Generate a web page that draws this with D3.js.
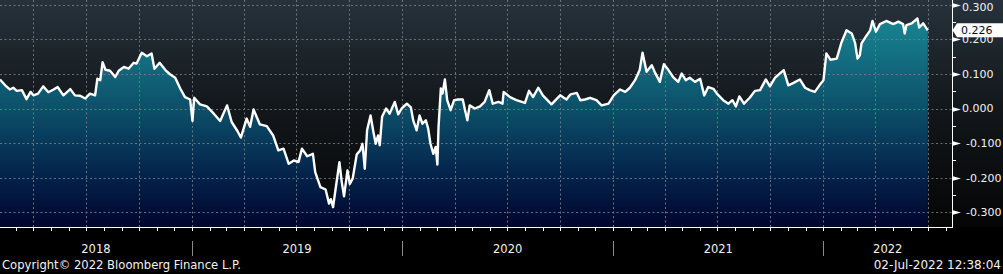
<!DOCTYPE html>
<html lang="en">
<head>
<meta charset="UTF-8">
<title>Bloomberg spread chart</title>
<script src="https://d3js.org/d3.v7.min.js"></script>
<style>
  body { margin: 0; background: #000; overflow: hidden; }
  text { font-family: "DejaVu Sans", sans-serif; font-size: 11px; fill: #f2f2f2; }
</style>
</head>
<body>
<svg id="chart"></svg>
<script>
// series: [date, value]
var series = [
  ["2018-02-02", 0.084], ["2018-02-11", 0.067], ["2018-02-19", 0.055], ["2018-02-25", 0.060],
  ["2018-03-03", 0.051], ["2018-03-12", 0.053], ["2018-03-20", 0.027], ["2018-03-27", 0.048],
  ["2018-04-01", 0.038], ["2018-04-09", 0.043], ["2018-04-18", 0.064], ["2018-04-27", 0.047],
  ["2018-05-06", 0.055], ["2018-05-13", 0.062], ["2018-05-23", 0.038], ["2018-06-04", 0.056],
  ["2018-06-12", 0.038], ["2018-06-21", 0.037], ["2018-06-30", 0.029], ["2018-07-08", 0.043],
  ["2018-07-17", 0.038], ["2018-07-21", 0.086], ["2018-07-26", 0.082], ["2018-07-30", 0.134],
  ["2018-08-04", 0.112], ["2018-08-12", 0.109], ["2018-08-21", 0.091], ["2018-08-27", 0.109],
  ["2018-09-05", 0.120], ["2018-09-13", 0.115], ["2018-09-22", 0.132], ["2018-09-27", 0.130],
  ["2018-10-06", 0.161], ["2018-10-15", 0.151], ["2018-10-23", 0.159], ["2018-10-28", 0.115],
  ["2018-11-06", 0.132], ["2018-11-16", 0.111], ["2018-11-24", 0.099], ["2018-12-03", 0.089],
  ["2018-12-12", 0.057], ["2018-12-20", 0.033], ["2018-12-29", 0.026],
  ["2019-01-02", -0.036], ["2019-01-05", 0.031], ["2019-01-15", 0.012], ["2019-01-27", 0.006],
  ["2019-02-08", -0.015], ["2019-02-19", -0.036], ["2019-03-03", 0.009], ["2019-03-11", -0.039],
  ["2019-03-21", -0.065], ["2019-03-27", -0.084], ["2019-04-06", -0.029], ["2019-04-12", -0.053],
  ["2019-04-18", -0.003], ["2019-04-29", -0.046], ["2019-05-11", -0.051], ["2019-05-22", -0.078],
  ["2019-05-31", -0.121], ["2019-06-09", -0.116], ["2019-06-18", -0.160], ["2019-06-27", -0.150],
  ["2019-07-05", -0.155], ["2019-07-11", -0.116], ["2019-07-20", -0.138], ["2019-07-30", -0.131],
  ["2019-08-03", -0.184], ["2019-08-12", -0.227], ["2019-08-21", -0.234], ["2019-08-27", -0.275],
  ["2019-08-30", -0.262], ["2019-09-03", -0.285], ["2019-09-07", -0.237], ["2019-09-14", -0.155],
  ["2019-09-18", -0.212], ["2019-09-22", -0.254], ["2019-09-28", -0.179], ["2019-10-02", -0.218],
  ["2019-10-07", -0.203], ["2019-10-14", -0.133], ["2019-10-20", -0.121], ["2019-10-24", -0.102],
  ["2019-10-28", -0.174], ["2019-11-01", -0.063], ["2019-11-07", -0.020], ["2019-11-12", -0.068],
  ["2019-11-16", -0.102], ["2019-11-20", -0.078], ["2019-11-23", -0.106], ["2019-11-27", -0.024],
  ["2019-12-04", 0.000], ["2019-12-10", -0.015], ["2019-12-19", 0.019], ["2019-12-25", -0.017],
  ["2019-12-31", 0.000],
  ["2020-01-09", 0.014], ["2020-01-16", 0.003], ["2020-01-20", -0.034], ["2020-01-26", -0.063],
  ["2020-01-31", -0.020], ["2020-02-05", -0.044], ["2020-02-11", -0.034], ["2020-02-15", -0.058],
  ["2020-02-19", -0.102], ["2020-02-24", -0.131], ["2020-02-28", -0.111], ["2020-03-02", -0.162],
  ["2020-03-04", -0.053], ["2020-03-08", 0.058], ["2020-03-11", 0.043], ["2020-03-15", 0.084],
  ["2020-03-19", 0.024], ["2020-03-25", -0.005], ["2020-03-31", 0.024], ["2020-04-07", 0.026],
  ["2020-04-15", 0.026], ["2020-04-19", -0.005], ["2020-04-23", -0.034], ["2020-04-27", 0.009],
  ["2020-05-06", 0.000], ["2020-05-15", 0.006], ["2020-05-23", 0.019], ["2020-05-31", 0.053],
  ["2020-06-06", 0.014], ["2020-06-16", 0.019], ["2020-06-23", 0.014], ["2020-06-25", 0.048],
  ["2020-07-06", 0.033], ["2020-07-17", 0.024], ["2020-08-01", 0.016], ["2020-08-08", 0.051],
  ["2020-08-15", 0.033], ["2020-08-24", 0.060], ["2020-09-01", 0.038], ["2020-09-16", 0.012],
  ["2020-10-01", 0.038], ["2020-10-12", 0.026], ["2020-10-19", 0.041], ["2020-10-30", 0.045],
  ["2020-11-05", 0.024], ["2020-11-13", 0.026], ["2020-11-22", 0.031], ["2020-12-03", 0.024],
  ["2020-12-12", 0.009], ["2020-12-24", 0.014],
  ["2021-01-02", 0.038], ["2021-01-13", 0.055], ["2021-01-22", 0.048], ["2021-01-30", 0.060],
  ["2021-02-08", 0.082], ["2021-02-16", 0.111], ["2021-02-21", 0.161], ["2021-02-28", 0.106],
  ["2021-03-09", 0.125], ["2021-03-14", 0.106], ["2021-03-23", 0.077], ["2021-03-30", 0.128],
  ["2021-04-07", 0.111], ["2021-04-15", 0.091], ["2021-04-24", 0.077], ["2021-04-30", 0.101],
  ["2021-05-07", 0.082], ["2021-05-14", 0.089], ["2021-05-23", 0.077], ["2021-06-01", 0.086],
  ["2021-06-08", 0.038], ["2021-06-15", 0.062], ["2021-06-24", 0.057], ["2021-06-30", 0.043],
  ["2021-07-11", 0.024], ["2021-07-20", 0.014], ["2021-07-27", 0.024], ["2021-08-02", 0.006],
  ["2021-08-08", 0.035], ["2021-08-16", 0.014], ["2021-08-26", 0.031], ["2021-09-04", 0.051],
  ["2021-09-13", 0.053], ["2021-09-23", 0.084], ["2021-09-30", 0.064], ["2021-10-09", 0.089],
  ["2021-10-17", 0.101], ["2021-10-24", 0.111], ["2021-11-01", 0.067], ["2021-11-10", 0.074],
  ["2021-11-21", 0.084], ["2021-11-30", 0.060], ["2021-12-08", 0.053], ["2021-12-17", 0.048],
  ["2021-12-25", 0.067],
  ["2022-01-01", 0.082], ["2022-01-06", 0.159], ["2022-01-13", 0.141], ["2022-01-24", 0.144],
  ["2022-02-01", 0.190], ["2022-02-10", 0.226], ["2022-02-19", 0.217], ["2022-02-25", 0.188],
  ["2022-03-01", 0.144], ["2022-03-05", 0.154], ["2022-03-08", 0.188], ["2022-03-16", 0.209],
  ["2022-03-23", 0.226], ["2022-03-27", 0.253], ["2022-04-02", 0.222], ["2022-04-09", 0.244],
  ["2022-04-20", 0.253], ["2022-05-02", 0.244], ["2022-05-11", 0.251], ["2022-05-19", 0.244],
  ["2022-05-22", 0.217], ["2022-05-25", 0.241], ["2022-06-03", 0.246], ["2022-06-13", 0.260],
  ["2022-06-16", 0.234], ["2022-06-23", 0.246], ["2022-07-01", 0.226]
];

var yTicks = [-0.3, -0.2, -0.1, 0, 0.1, 0.2, 0.3];
var years = [2018, 2019, 2020, 2021, 2022];
var lastValue = 0.226;
var copyright = "Copyright\u00a9 2022 Bloomberg Finance L.P.";
var stamp = "02-Jul-2022 12:38:04";

var width = 1003, height = 274;
var plotW = 952, plotH = 227;

var parse = d3.utcParse("%Y-%m-%d");
var data = series.map(function(d) { return {date: parse(d[0]), value: d[1]}; });

var x = d3.scaleUtc()
  .domain([parse("2018-02-02"), parse("2022-08-12")])
  .range([0, plotW]);

var y = d3.scaleLinear()
  .domain([-0.3, 0.3])
  .range([212.3, 4.7]);

var svg = d3.select("#chart")
  .attr("width", width)
  .attr("height", height);

// gradients
var defs = svg.append("defs");

var bg = defs.append("linearGradient")
  .attr("id", "bg")
  .attr("gradientUnits", "userSpaceOnUse")
  .attr("x1", 0).attr("y1", 0).attr("x2", 0).attr("y2", plotH);
bg.append("stop").attr("offset", 0).attr("stop-color", "#27323c");
bg.append("stop").attr("offset", 0.45).attr("stop-color", "#13181c");
bg.append("stop").attr("offset", 1).attr("stop-color", "#050505");

var fill = defs.append("linearGradient")
  .attr("id", "fill")
  .attr("gradientUnits", "userSpaceOnUse")
  .attr("x1", 0).attr("y1", 0).attr("x2", 0).attr("y2", plotH);
fill.append("stop").attr("offset", 0).attr("stop-color", "#1a8d9a");
fill.append("stop").attr("offset", 0.18).attr("stop-color", "#157888");
fill.append("stop").attr("offset", 0.48).attr("stop-color", "#0c4f69");
fill.append("stop").attr("offset", 0.78).attr("stop-color", "#04224a");
fill.append("stop").attr("offset", 1).attr("stop-color", "#00052e");

svg.append("rect")
  .attr("width", width)
  .attr("height", plotH)
  .attr("fill", "url(#bg)");

// area and line
var area = d3.area()
  .x(function(d) { return x(d.date); })
  .y0(plotH)
  .y1(function(d) { return y(d.value); });

var line = d3.line()
  .x(function(d) { return x(d.date); })
  .y(function(d) { return y(d.value); });

svg.append("path")
  .datum(data)
  .attr("d", area)
  .attr("fill", "url(#fill)");

// grid
var grid = svg.append("g")
  .attr("stroke", "#7a8086")
  .attr("stroke-width", 1)
  .attr("stroke-dasharray", "2,2.5")
  .attr("opacity", 0.85);

grid.selectAll("line.h")
  .data(yTicks)
  .enter()
  .append("line")
  .attr("class", "h")
  .attr("x1", 0)
  .attr("x2", plotW)
  .attr("y1", function(d) { return Math.round(y(d)) + 0.5; })
  .attr("y2", function(d) { return Math.round(y(d)) + 0.5; });

grid.selectAll("line.v")
  .data(x.ticks(d3.utcMonth.every(3)))
  .enter()
  .append("line")
  .attr("class", "v")
  .attr("x1", function(d) { return Math.round(x(d)) + 0.5; })
  .attr("x2", function(d) { return Math.round(x(d)) + 0.5; })
  .attr("y1", 0)
  .attr("y2", plotH);

svg.append("path")
  .datum(data)
  .attr("d", line)
  .attr("fill", "none")
  .attr("stroke", "#ffffff")
  .attr("stroke-width", 2.4)
  .attr("stroke-linejoin", "round");

// black strip under the plot
svg.append("rect")
  .attr("y", plotH)
  .attr("width", width)
  .attr("height", height - plotH)
  .attr("fill", "#000");

// bottom axis: line and monthly ticks
svg.append("line")
  .attr("x1", 0).attr("x2", plotW + 0.5)
  .attr("y1", plotH + 0.5).attr("y2", plotH + 0.5)
  .attr("stroke", "#fff");

svg.selectAll("line.mtick")
  .data(x.ticks(d3.utcMonth.every(1)))
  .enter()
  .append("line")
  .attr("class", "mtick")
  .attr("x1", function(d) { return Math.round(x(d)) + 0.5; })
  .attr("x2", function(d) { return Math.round(x(d)) + 0.5; })
  .attr("y1", plotH)
  .attr("y2", plotH + 4)
  .attr("stroke", "#fff");

// year separators and labels
var yearStart = function(yr) { return x(new Date(Date.UTC(yr, 0, 1))); };

svg.selectAll("line.ysep")
  .data(years.slice(1))
  .enter()
  .append("line")
  .attr("class", "ysep")
  .attr("x1", function(d) { return Math.round(yearStart(d)) + 0.5; })
  .attr("x2", function(d) { return Math.round(yearStart(d)) + 0.5; })
  .attr("y1", 241)
  .attr("y2", 256)
  .attr("stroke", "#8a8a8a");

svg.selectAll("text.year")
  .data(years)
  .enter()
  .append("text")
  .attr("class", "year")
  .attr("x", function(d) {
    var a = Math.max(0, yearStart(d)), b = Math.min(plotW, yearStart(d + 1));
    return (a + b) / 2;
  })
  .attr("y", 253)
  .attr("text-anchor", "middle")
  .style("font-size", "11.5px")
  .text(function(d) { return d; });

// right axis
svg.append("line")
  .attr("x1", plotW + 0.5).attr("x2", plotW + 0.5)
  .attr("y1", 0).attr("y2", plotH + 1)
  .attr("stroke", "#fff");

var minor = d3.range(-0.25, 0.3, 0.1);
svg.selectAll("line.minor")
  .data(minor)
  .enter()
  .append("line")
  .attr("class", "minor")
  .attr("x1", plotW)
  .attr("x2", plotW + 4)
  .attr("y1", function(d) { return Math.round(y(d)) + 0.5; })
  .attr("y2", function(d) { return Math.round(y(d)) + 0.5; })
  .attr("stroke", "#fff");

svg.selectAll("path.major")
  .data(yTicks)
  .enter()
  .append("path")
  .attr("class", "major")
  .attr("d", function(d) {
    var yy = Math.round(y(d)) + 0.5;
    return "M" + plotW + "," + (yy - 2.5) + "L" + (plotW + 9) + "," + yy + "L" + plotW + "," + (yy + 2.5) + "Z";
  })
  .attr("fill", "#fff");

svg.selectAll("text.ylab")
  .data(yTicks)
  .enter()
  .append("text")
  .attr("class", "ylab")
  .attr("x", function(d) { return d < 0 ? 966 : 962; })
  .attr("y", function(d) { return Math.max(y(d), 7.3); })
  .attr("dy", "0.36em")
  .text(function(d) { return d3.format(".3f")(d).replace("\u2212", "-"); });

// last value box
var ly = y(lastValue);
svg.append("path")
  .attr("d", "M" + (plotW + 0.5) + "," + ly + "L957," + (ly - 7) + "L1003," + (ly - 7) +
             "L1003," + (ly + 7) + "L957," + (ly + 7) + "Z")
  .attr("fill", "#fff");

svg.append("text")
  .attr("x", 961)
  .attr("y", ly)
  .attr("dy", "0.36em")
  .style("fill", "#0a0a20")
  .text(d3.format(".3f")(lastValue));

// footer
svg.append("text")
  .attr("x", 2)
  .attr("y", 269)
  .style("font-size", "11.6px")
  .text(copyright);

svg.append("text")
  .attr("x", 1001)
  .attr("y", 269)
  .attr("text-anchor", "end")
  .style("font-size", "12px")
  .text(stamp);
</script>
</body>
</html>
